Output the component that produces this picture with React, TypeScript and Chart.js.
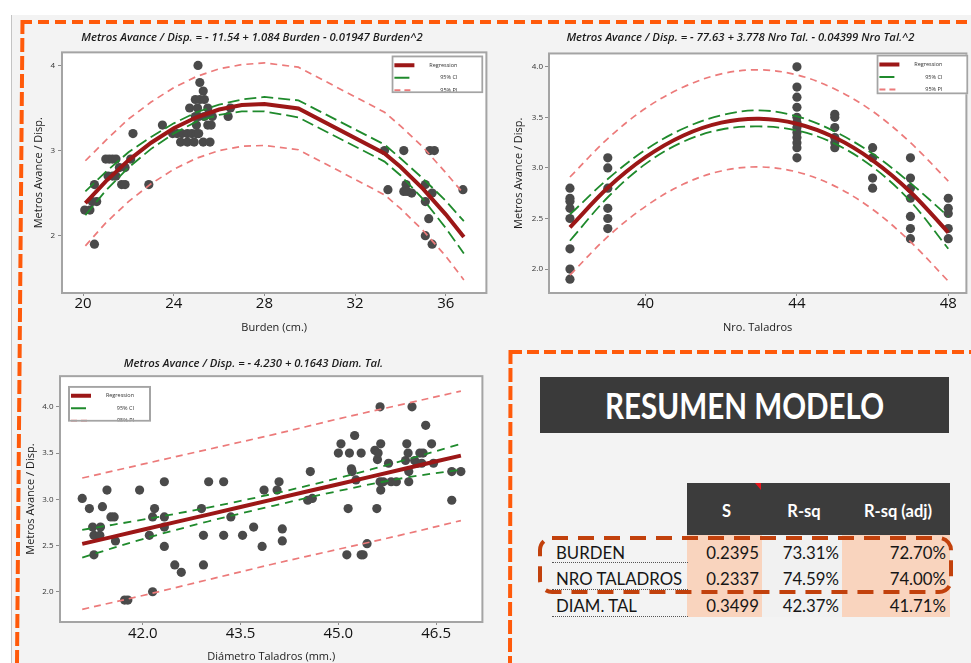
import React, { useEffect, useRef } from "react";
import { Chart, registerables } from "chart.js";

Chart.register(...registerables);

// ---------- Burden (quadratic model) ----------
const burdenX = [
  20.07, 20.3, 20.4, 20.6, 20.5, 20.5,
  21.0, 21.15, 21.3, 21.45, 21.1, 21.3, 21.45, 21.6, 21.85, 21.7, 21.85,
  22.1, 22.2, 22.9, 23.5,
  23.95, 24.15, 24.35, 24.6, 24.8, 25.0, 25.1,
  24.3, 24.6, 24.9, 25.3, 25.6,
  25.0, 25.5, 25.65,
  24.95, 25.1, 25.35, 25.7, 26.4,
  24.7, 25.05, 25.5, 26.5,
  24.95, 25.15, 25.35, 25.3, 25.15, 25.07,
  33.3, 33.45, 34.15, 34.25, 34.15, 34.3, 34.5,
  35.1, 35.1, 35.25, 35.1, 35.4, 35.3, 35.5, 35.4, 36.76,
];
const burdenY = [
  2.3, 2.3, 2.4, 2.4, 2.6, 1.9,
  2.9, 2.9, 2.9, 2.9, 2.7, 2.7, 2.7, 2.8, 2.8, 2.6, 2.6,
  2.9, 3.2, 2.6, 3.3,
  3.2, 3.2, 3.2, 3.2, 3.2, 3.2, 3.2,
  3.1, 3.1, 3.1, 3.1, 3.1,
  3.3, 3.3, 3.3,
  3.4, 3.4, 3.4, 3.4, 3.4,
  3.5, 3.5, 3.5, 3.5,
  3.6, 3.6, 3.6, 3.7, 3.8, 4.0,
  3.0, 2.54, 3.0, 2.6, 2.52, 2.52, 2.5,
  2.6, 2.4, 2.2, 2.0, 1.9, 3.0, 3.0, 2.5, 2.54,
];
const burdenCoef = [-11.54, 1.084, -0.01947];
const burdenCurveX = [20.1, 21, 22, 23, 24, 25, 26, 27, 28, 29.5, 33.3, 34, 35, 36, 36.8];
const burdenCiUp = [2.52, 2.75, 2.98, 3.16, 3.32, 3.45, 3.54, 3.6, 3.63, 3.59, 3.07, 2.91, 2.67, 2.41, 2.17];
const burdenCiLo = [2.24, 2.53, 2.8, 3.02, 3.2, 3.34, 3.42, 3.46, 3.46, 3.39, 2.87, 2.71, 2.43, 2.09, 1.79];
const burdenPiUp = [2.88, 3.12, 3.37, 3.57, 3.74, 3.87, 3.96, 4.01, 4.03, 3.98, 3.45, 3.29, 3.04, 2.74, 2.49];
const burdenPiLo = [1.88, 2.15, 2.4, 2.61, 2.78, 2.91, 3.0, 3.05, 3.06, 3.01, 2.48, 2.32, 2.06, 1.76, 1.48];
const burdenXTicks = [20, 24, 28, 32, 36];
const burdenYTicks = [2, 3, 4];

// ---------- Nro. Taladros (quadratic model) ----------
const taladrosX = [
  38, 38, 38, 38, 38, 38, 38, 38,
  39, 39, 39, 39, 39, 39,
  44, 44, 44, 44, 44, 44, 44, 44, 44, 44, 44, 44,
  45, 45, 45, 45, 45, 45,
  46, 46, 46, 46,
  47, 47, 47, 47, 47, 47, 47,
  48, 48, 48, 48, 48,
];
const taladrosY = [
  2.8, 2.7, 2.67, 2.6, 2.5, 2.2, 2.0, 1.9,
  3.1, 3.0, 2.8, 2.6, 2.5, 2.4,
  4.0, 3.8, 3.7, 3.6, 3.5, 3.45, 3.4, 3.35, 3.3, 3.25, 3.2, 3.1,
  3.53, 3.5, 3.4, 3.3, 3.25, 3.2,
  3.2, 3.1, 2.9, 2.8,
  3.1, 2.9, 2.8, 2.7, 2.52, 2.4, 2.3,
  2.7, 2.6, 2.55, 2.4, 2.3,
];
const taladrosCoef = [-77.63, 3.778, -0.04399];
const taladrosCurveX = [38, 39, 40, 41, 42, 43, 44, 45, 46, 47, 48];
const taladrosCiUp = [2.54, 2.89, 3.18, 3.39, 3.52, 3.57, 3.51, 3.36, 3.14, 2.85, 2.52];
const taladrosCiLo = [2.28, 2.71, 3.04, 3.26, 3.38, 3.41, 3.37, 3.24, 3.01, 2.67, 2.2];
const taladrosPiUp = [2.91, 3.29, 3.59, 3.8, 3.93, 3.97, 3.92, 3.78, 3.56, 3.25, 2.87];
const taladrosPiLo = [1.94, 2.32, 2.62, 2.84, 2.97, 3.01, 2.96, 2.82, 2.59, 2.27, 1.88];
const taladrosXTicks = [40, 44, 48];
const taladrosYTicks = [2.0, 2.5, 3.0, 3.5, 4.0];

// ---------- Diametro taladros (linear model) ----------
const diamX = [
  41.07, 41.18, 41.23, 41.25, 41.25, 41.34, 41.35, 41.38, 41.45, 41.51, 41.56, 41.58,
  41.72, 41.77, 41.95, 42.1, 42.15, 42.15, 42.18, 42.33, 42.33, 42.33, 42.33, 42.49,
  42.59, 42.9, 42.93, 42.93, 43.01, 43.24, 43.24, 43.35, 43.53, 43.7, 43.83, 43.86,
  44.06, 44.09, 44.14, 44.14, 44.53, 44.6, 44.57,
  45.0, 45.04, 45.13, 45.15, 45.17, 45.2, 45.21, 45.25, 45.27, 45.35, 45.35, 45.38, 45.44,
  45.56, 45.59, 45.6, 45.61, 45.64, 45.65, 45.64, 45.65, 45.69, 45.77, 45.81, 45.89,
  46.05, 46.03, 46.07, 46.08, 46.08, 46.13, 46.17, 46.21, 46.25, 46.28, 46.3, 46.34,
  46.43, 46.46, 46.74, 46.74, 46.88,
];
const diamY = [
  3.01, 2.9, 2.7, 2.61, 2.4, 2.61, 2.7, 2.92, 3.1, 2.81, 2.81, 2.55,
  1.91, 1.91, 3.1, 2.61, 2.0, 2.81, 2.9, 3.19, 2.81, 2.7, 2.49, 2.29,
  2.21, 2.9, 2.61, 2.29, 3.19, 3.19, 2.61, 2.81, 2.61, 2.7, 2.49, 3.1,
  3.1, 3.19, 2.68, 2.55, 2.99, 3.01, 3.3,
  3.5, 3.6, 2.4, 2.9, 3.5, 3.33, 3.3, 3.69, 3.21, 3.5, 2.4, 2.4, 2.52,
  3.53, 2.9, 3.43, 3.5, 4.0, 3.6, 3.19, 3.1, 3.19, 3.39, 3.19, 3.19,
  3.6, 3.42, 3.5, 3.3, 3.19, 4.0, 3.42, 3.39, 3.5, 3.39, 3.5, 3.8,
  3.6, 3.39, 3.3, 2.99, 3.3,
];
const diamCoef = [-4.23, 0.1643];
const diamCurveX = [41.07, 42, 43, 44, 45, 46, 46.88];
const diamCiUp = [2.67, 2.78, 2.91, 3.06, 3.23, 3.42, 3.6];
const diamCiLo = [2.37, 2.57, 2.76, 2.93, 3.09, 3.23, 3.32];
const diamPiUp = [3.23, 3.38, 3.54, 3.7, 3.87, 4.03, 4.17];
const diamPiLo = [1.81, 1.96, 2.13, 2.3, 2.46, 2.62, 2.77];
const diamXTicks = [42.0, 43.5, 45.0, 46.5];
const diamYTicks = [2.0, 2.5, 3.0, 3.5, 4.0];

// ---------- Model summary table ----------
const modelNames = ["BURDEN", "NRO TALADROS", "DIAM. TAL"];
const modelS = [0.2395, 0.2337, 0.3499];
const modelRsq = [73.31, 74.59, 42.37];
const modelRsqAdj = [72.7, 74.0, 41.71];
const tableHeaders = ["S", "R-sq", "R-sq (adj)"];

const RED = "#9c1717";
const GREEN = "#1f8a2c";
const PINK = "#ec7a7a";
const DOT = "#4a4a4a";
const FONT = "'Open Sans', 'Noto Sans', sans-serif";

const toPoints = (xs: number[], ys: number[]) => xs.map((x, i) => ({ x, y: ys[i] }));
const fitPoints = (coef: number[], xs: number[]) =>
  xs.map((x) => ({ x, y: coef.reduce((s, c, k) => s + c * Math.pow(x, k), 0) }));

// white plot area with a grey frame
const plotFrame = {
  id: "plotFrame",
  beforeDraw(chart: any) {
    const { ctx, chartArea: a } = chart;
    ctx.save();
    ctx.fillStyle = "#ffffff";
    ctx.fillRect(a.left, a.top, a.width, a.height);
    ctx.restore();
  },
  afterDatasetsDraw(chart: any) {
    const { ctx, chartArea: a } = chart;
    ctx.save();
    ctx.strokeStyle = "#a4a4a4";
    ctx.lineWidth = 2;
    ctx.strokeRect(a.left, a.top, a.width, a.height);
    ctx.restore();
  },
};

// boxed key for regression / confidence / prediction lines
const fitLegend = {
  id: "fitLegend",
  afterDraw(chart: any, _args: any, opts: any) {
    if (!opts || !opts.side) return;
    const { ctx, chartArea: a } = chart;
    const w = opts.width;
    const h = opts.height;
    const x = opts.side === "left" ? a.left + opts.insetX : a.right - opts.insetX - w;
    const y = a.top + opts.insetY;
    ctx.save();
    ctx.beginPath();
    ctx.rect(x, y, w, h);
    ctx.clip();
    ctx.fillStyle = "#ffffff";
    ctx.fillRect(x, y, w, h);
    const rows = [
      { label: "Regression", color: RED, width: 4, dash: [] as number[], len: 20, dy: 10 },
      { label: "95% CI", color: GREEN, width: 2, dash: [] as number[], len: 15, dy: 22.5 },
      { label: "95% PI", color: PINK, width: 2, dash: [6, 4], len: 20, dy: 35 },
    ];
    rows.forEach((r) => {
      ctx.beginPath();
      ctx.setLineDash(r.dash);
      ctx.strokeStyle = r.color;
      ctx.lineWidth = r.width;
      ctx.moveTo(x + 3, y + r.dy);
      ctx.lineTo(x + 3 + r.len, y + r.dy);
      ctx.stroke();
      ctx.setLineDash([]);
      ctx.fillStyle = "#333";
      ctx.font = `5.5px ${FONT}`;
      ctx.textAlign = "right";
      ctx.textBaseline = "middle";
      ctx.fillText(r.label, x + 66, y + r.dy);
    });
    ctx.strokeStyle = "#a4a4a4";
    ctx.lineWidth = 2;
    ctx.strokeRect(x + 1, y + 1, w - 2, h - 2);
    ctx.restore();
  },
};

type PanelSpec = {
  title: string;
  titlePad: { top: number; bottom: number };
  xTitle: string;
  xRange: [number, number];
  yRange: [number, number];
  xTicks: number[];
  yTicks: number[];
  xDigits: number;
  yDigits: number;
  xHeight: number;
  yWidth: number;
  xTickPad: number;
  yTickPad: number;
  xTitlePad: number;
  yTitlePad: number;
  padRight: number;
  pts: { x: number; y: number }[];
  fit: { x: number; y: number }[];
  ciUp: { x: number; y: number }[];
  ciLo: { x: number; y: number }[];
  piUp: { x: number; y: number }[];
  piLo: { x: number; y: number }[];
  tension: number;
  ciDash: number[];
  legend: { side: string; insetX: number; insetY: number; width: number; height: number };
};

function buildConfig(s: PanelSpec): any {
  const band = (data: any, color: string, dash: number[], width: number, order: number) => ({
    data,
    showLine: true,
    borderColor: color,
    borderWidth: width,
    borderDash: dash,
    pointRadius: 0,
    tension: s.tension,
    order,
  });
  return {
    type: "scatter",
    data: {
      datasets: [
        band(s.fit, RED, [], 4, 1),
        band(s.ciUp, GREEN, s.ciDash, 1.8, 2),
        band(s.ciLo, GREEN, s.ciDash, 1.8, 2),
        band(s.piUp, PINK, [7, 5], 1.7, 3),
        band(s.piLo, PINK, [7, 5], 1.7, 3),
        {
          data: s.pts,
          pointRadius: 4.6,
          pointBackgroundColor: DOT,
          pointBorderWidth: 0,
          showLine: false,
          order: 10,
        },
      ],
    },
    options: {
      animation: false,
      responsive: false,
      events: [],
      layout: { padding: { left: 0, right: s.padRight, top: 0, bottom: 0 } },
      plugins: {
        legend: { display: false },
        tooltip: { enabled: false },
        title: {
          display: true,
          text: s.title,
          color: "#1b1b1b",
          font: { family: FONT, size: 11.3, style: "italic", weight: "600", lineHeight: 1.2 },
          padding: s.titlePad,
        },
        fitLegend: s.legend,
      },
      scales: {
        x: {
          type: "linear",
          min: s.xRange[0],
          max: s.xRange[1],
          afterBuildTicks: (sc: any) => {
            sc.ticks = s.xTicks.map((v) => ({ value: v }));
          },
          afterFit: (sc: any) => {
            sc.height = s.xHeight;
          },
          ticks: {
            autoSkip: false,
            maxRotation: 0,
            padding: s.xTickPad,
            color: "#111",
            font: { family: FONT, size: 15, lineHeight: 1 },
            callback: (v: any) => Number(v).toFixed(s.xDigits),
          },
          grid: { drawOnChartArea: false, drawTicks: true, tickLength: 3, color: "#8c8c8c" },
          border: { display: false },
          title: {
            display: true,
            text: s.xTitle,
            color: "#1b1b1b",
            font: { family: FONT, size: 11, lineHeight: 1.2 },
            padding: { top: 0, bottom: s.xTitlePad },
          },
        },
        y: {
          type: "linear",
          min: s.yRange[0],
          max: s.yRange[1],
          afterBuildTicks: (sc: any) => {
            sc.ticks = s.yTicks.map((v) => ({ value: v }));
          },
          afterFit: (sc: any) => {
            sc.width = s.yWidth;
          },
          ticks: {
            autoSkip: false,
            padding: s.yTickPad,
            color: "#333",
            font: { family: FONT, size: 8 },
            callback: (v: any) => Number(v).toFixed(s.yDigits),
          },
          grid: { drawOnChartArea: false, drawTicks: true, tickLength: 4, color: "#8c8c8c" },
          border: { display: false },
          title: {
            display: true,
            text: "Metros Avance / Disp.",
            color: "#1b1b1b",
            font: { family: FONT, size: 11, lineHeight: 1.2 },
            padding: { top: s.yTitlePad, bottom: 0 },
          },
        },
      },
    },
    plugins: [plotFrame, fitLegend],
  };
}

function ScatterPanel({ spec, left, top, width, height }: { spec: PanelSpec; left: number; top: number; width: number; height: number }) {
  const ref = useRef<HTMLCanvasElement>(null);
  useEffect(() => {
    const chart = new Chart(ref.current as HTMLCanvasElement, buildConfig(spec));
    return () => chart.destroy();
  }, [spec]);
  return (
    <canvas
      ref={ref}
      width={width}
      height={height}
      style={{ position: "absolute", left, top, width, height }}
    />
  );
}

const burdenSpec: PanelSpec = {
  title: "Metros Avance / Disp. = - 11.54 + 1.084 Burden - 0.01947 Burden^2",
  titlePad: { top: 5.5, bottom: 8.3 },
  xTitle: "Burden (cm.)",
  xRange: [19.068, 37.795],
  yRange: [1.326, 4.154],
  xTicks: burdenXTicks,
  yTicks: burdenYTicks,
  xDigits: 0,
  yDigits: 0,
  xHeight: 47,
  yWidth: 48,
  xTickPad: 0.5,
  yTickPad: 3,
  xTitlePad: 5.1,
  yTitlePad: 18.7,
  padRight: 1,
  pts: toPoints(burdenX, burdenY),
  fit: fitPoints(burdenCoef, burdenCurveX),
  ciUp: toPoints(burdenCurveX, burdenCiUp),
  ciLo: toPoints(burdenCurveX, burdenCiLo),
  piUp: toPoints(burdenCurveX, burdenPiUp),
  piLo: toPoints(burdenCurveX, burdenPiLo),
  tension: 0,
  ciDash: [12, 5],
  legend: { side: "right", insetX: 3, insetY: 3, width: 92, height: 38 },
};

const taladrosSpec: PanelSpec = {
  title: "Metros Avance / Disp. = - 77.63 + 3.778 Nro Tal. - 0.04399 Nro Tal.^2",
  titlePad: { top: 5.5, bottom: 9.4 },
  xTitle: "Nro. Taladros",
  xRange: [37.446, 48.479],
  yRange: [1.763, 4.132],
  xTicks: taladrosXTicks,
  yTicks: taladrosYTicks,
  xDigits: 0,
  yDigits: 1,
  xHeight: 47,
  yWidth: 39,
  xTickPad: 0.5,
  yTickPad: 2,
  xTitlePad: 5.1,
  yTitlePad: 2.7,
  padRight: 0,
  pts: toPoints(taladrosX, taladrosY),
  fit: fitPoints(taladrosCoef, taladrosCurveX),
  ciUp: toPoints(taladrosCurveX, taladrosCiUp),
  ciLo: toPoints(taladrosCurveX, taladrosCiLo),
  piUp: toPoints(taladrosCurveX, taladrosPiUp),
  piLo: toPoints(taladrosCurveX, taladrosPiLo),
  tension: 0.35,
  ciDash: [12, 5],
  legend: { side: "right", insetX: -2, insetY: 1, width: 92, height: 40 },
};

const diamSpec: PanelSpec = {
  title: "Metros Avance / Disp. = - 4.230 + 0.1643 Diam. Tal.",
  titlePad: { top: 6.5, bottom: 6.1 },
  xTitle: "Diámetro Taladros (mm.)",
  xRange: [40.729, 47.21],
  yRange: [1.673, 4.332],
  xTicks: diamXTicks,
  yTicks: diamYTicks,
  xDigits: 1,
  yDigits: 1,
  xHeight: 48,
  yWidth: 38,
  xTickPad: 1.5,
  yTickPad: 2.5,
  xTitlePad: 6.7,
  yTitlePad: 2.4,
  padRight: 2,
  pts: toPoints(diamX, diamY),
  fit: fitPoints(diamCoef, diamCurveX),
  ciUp: toPoints(diamCurveX, diamCiUp),
  ciLo: toPoints(diamCurveX, diamCiLo),
  piUp: toPoints(diamCurveX, diamPiUp),
  piLo: toPoints(diamCurveX, diamPiLo),
  tension: 0.35,
  ciDash: [8, 6],
  legend: { side: "left", insetX: 8, insetY: 9.7, width: 83, height: 36 },
};

const TABLE_FONT = "Lato, 'Open Sans', sans-serif";
const PEACH = "#f9d4be";
const rowCenters = [552, 578.5, 605];
const rowBounds = [535, 563, 590, 617];
const colBounds = [687, 762, 842, 950];

function SummaryTable() {
  const cells: React.ReactNode[] = [];
  // column fills
  [PEACH, "#f1f1f1", PEACH].forEach((bg, c) => {
    cells.push(
      <div
        key={`fill${c}`}
        style={{
          position: "absolute",
          left: colBounds[c],
          top: rowBounds[0],
          width: colBounds[c + 1] - colBounds[c],
          height: rowBounds[3] - rowBounds[0],
          background: bg,
        }}
      />
    );
  });
  // header
  cells.push(
    <div
      key="head"
      style={{
        position: "absolute",
        left: colBounds[0],
        top: 483,
        width: colBounds[3] - colBounds[0],
        height: rowBounds[0] - 483,
        background: "#3c3c3c",
      }}
    />
  );
  tableHeaders.forEach((h, c) => {
    cells.push(
      <div
        key={`h${c}`}
        style={{
          position: "absolute",
          left: colBounds[c] + 2,
          top: 500,
          width: colBounds[c + 1] - colBounds[c],
          height: 22,
          lineHeight: "22px",
          textAlign: "center",
          color: "#ffffff",
          fontFamily: TABLE_FONT,
          fontWeight: 700,
          fontSize: 16.5,
        }}
      >
        {h}
      </div>
    );
  });
  // comment marker
  cells.push(
    <div
      key="marker"
      style={{
        position: "absolute",
        left: 755,
        top: 483,
        width: 0,
        height: 0,
        borderLeft: "6px solid transparent",
        borderTop: "7px solid #e8141b",
      }}
    />
  );
  modelNames.forEach((name, r) => {
    const top = rowCenters[r] - 10.5;
    const textStyle = {
      position: "absolute" as const,
      top,
      height: 21,
      lineHeight: "21px",
      fontFamily: TABLE_FONT,
      fontSize: 16.8,
      color: "#161616",
      whiteSpace: "nowrap" as const,
    };
    cells.push(
      <div key={`n${r}`} style={{ ...textStyle, left: 556 }}>
        {name}
      </div>
    );
    cells.push(
      <div
        key={`u${r}`}
        style={{
          position: "absolute",
          left: 552,
          top: rowBounds[r + 1] - 1,
          width: 136,
          height: 0,
          borderTop: "1px dotted #555",
        }}
      />
    );
    const vals = [modelS[r].toFixed(4), modelRsq[r].toFixed(2) + "%", modelRsqAdj[r].toFixed(2) + "%"];
    const rights = [759, 839, 946];
    vals.forEach((v, c) => {
      cells.push(
        <div key={`v${r}${c}`} style={{ ...textStyle, right: 971 - rights[c], textAlign: "right" }}>
          {v}
        </div>
      );
    });
  });
  return <>{cells}</>;
}

export default function App() {
  return (
    <div
      style={{
        position: "fixed",
        left: 0,
        top: 0,
        width: 971,
        height: 663,
        overflow: "hidden",
        background: "#ffffff",
      }}
    >
      <div
        style={{
          position: "absolute",
          left: 11,
          top: 15,
          right: 0,
          bottom: 0,
          background: "#f3f3f3",
          borderLeft: "1px solid #c4c4c4",
        }}
      />
      <ScatterPanel spec={burdenSpec} left={14} top={25} width={477} height={315} />
      <ScatterPanel spec={taladrosSpec} left={510} top={25} width={461} height={315} />
      <ScatterPanel spec={diamSpec} left={22} top={350} width={465} height={320} />

      <div
        style={{
          position: "absolute",
          left: 540,
          top: 377,
          width: 409,
          height: 56,
          background: "#3a3a3a",
          color: "#ffffff",
          textAlign: "center",
          lineHeight: "56px",
          fontFamily: "Lato, 'Open Sans', sans-serif",
          fontWeight: 700,
          fontSize: 37,
          whiteSpace: "nowrap",
        }}
      >
        <span style={{ display: "inline-block", transform: "scaleX(0.8)", transformOrigin: "center" }}>
          RESUMEN MODELO
        </span>
      </div>
      <SummaryTable />

      <svg
        width={971}
        height={663}
        style={{ position: "absolute", left: 0, top: 0, pointerEvents: "none" }}
      >
        <line x1={21} y1={22} x2={971} y2={22} stroke="#ff5a0a" strokeWidth={4} strokeDasharray="11 6" />
        <line x1={22.5} y1={20} x2={17} y2={663} stroke="#ff5a0a" strokeWidth={4} strokeDasharray="14 4" />
        <line x1={510} y1={352} x2={971} y2={352} stroke="#ff5a0a" strokeWidth={4} strokeDasharray="12 5" />
        <line x1={510.5} y1={350} x2={510} y2={663} stroke="#ff5a0a" strokeWidth={4} strokeDasharray="14 4" />
        <rect
          x={540}
          y={538}
          width={411}
          height={54}
          rx={12}
          ry={12}
          fill="none"
          stroke="#c2410c"
          strokeWidth={4}
          strokeDasharray="16 10"
        />
      </svg>
    </div>
  );
}
